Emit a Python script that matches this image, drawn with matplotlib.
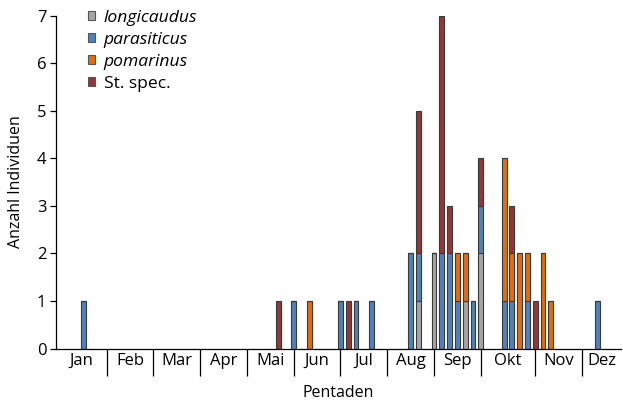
import matplotlib
matplotlib.use('Agg')
import matplotlib.pyplot as plt
import matplotlib.patches as mpatches
import numpy as np

plt.rcParams['font.family'] = ['Open Sans', 'DejaVu Sans']

### data: pentade number and individuals per species
pentade = [4, 29, 31, 33, 37, 38, 39, 41, 46, 47, 49, 50, 51, 52, 53, 54, 55,
           58, 59, 60, 61, 62, 63, 64, 70]
longicaudus = [0, 0, 0, 0, 0, 0, 0, 0, 0, 1, 2, 0, 0, 0, 1, 0, 2,
               0, 0, 0, 0, 0, 0, 0, 0]
parasiticus = [1, 0, 1, 0, 1, 0, 1, 1, 2, 1, 0, 2, 2, 1, 0, 1, 1,
               1, 1, 0, 1, 0, 0, 0, 1]
pomarinus = [0, 0, 0, 1, 0, 0, 0, 0, 0, 0, 0, 0, 0, 1, 1, 0, 0,
             3, 1, 2, 1, 0, 2, 1, 0]
st_spec = [0, 1, 0, 0, 0, 1, 0, 0, 0, 3, 0, 5, 1, 0, 0, 0, 1,
           0, 1, 0, 0, 1, 0, 0, 0]

months = ['Jan', 'Feb', 'Mar', 'Apr', 'Mai', 'Jun', 'Jul', 'Aug', 'Sep', 'Okt', 'Nov', 'Dez']
month_bounds = [0.5, 7, 13, 19, 25, 31, 37, 43, 49, 55, 62, 68, 73]

series = [longicaudus, parasiticus, pomarinus, st_spec]
colours = ['#a5a5a5', '#4f81bd', '#e46c0a', '#953735']
labels = ['longicaudus', 'parasiticus', 'pomarinus', 'St. spec.']
italic = [True, True, True, False]

fig = plt.figure(figsize=(6.23, 4.03), dpi=100)
ax = fig.add_axes([0.0899, 0.1352, 0.9069, 0.8263])

bottom = np.zeros(len(pentade))
for vals, col in zip(series, colours):
    vals = np.array(vals, dtype=float)
    ax.bar(pentade, vals, bottom=bottom, width=0.62, color=col,
           edgecolor='#3a3a3a', linewidth=0.8)
    bottom += vals

ax.set_xlim(month_bounds[0], month_bounds[-1])
ax.set_ylim(0, 7)
ax.spines['top'].set_visible(False)
ax.spines['right'].set_visible(False)
for s in ['left', 'bottom']:
    ax.spines[s].set_linewidth(0.9)

# month separators as long ticks, month names in between
ax.set_xticks(month_bounds[1:-1])
ax.set_xticklabels([])
ax.tick_params(axis='x', which='major', length=19.5, width=0.9, direction='out')
mids = [(a + b) / 2 for a, b in zip(month_bounds[:-1], month_bounds[1:])]
ax.set_xticks(mids, minor=True)
ax.set_xticklabels(months, minor=True, fontsize=12)
ax.tick_params(axis='x', which='minor', length=0, pad=3)

ax.set_yticks(range(8))
ax.tick_params(axis='y', length=4, width=0.9, labelsize=12, pad=3)

ax.set_ylabel('Anzahl Individuen', fontsize=11.5, labelpad=9)
ax.set_xlabel('Pentaden', fontsize=11.5, labelpad=3)

handles = [mpatches.Patch(facecolor=c, edgecolor='#555555', linewidth=0.8) for c in colours]
leg = ax.legend(handles, labels, loc='upper left', bbox_to_anchor=(0.044, 1.039),
                frameon=False, fontsize=12.6, handlelength=0.38, handleheight=0.38,
                handletextpad=0.52, labelspacing=0.35, borderaxespad=0)
for t, it in zip(leg.get_texts(), italic):
    if it:
        t.set_fontstyle('italic')

fig.savefig('out.png', dpi=100)
